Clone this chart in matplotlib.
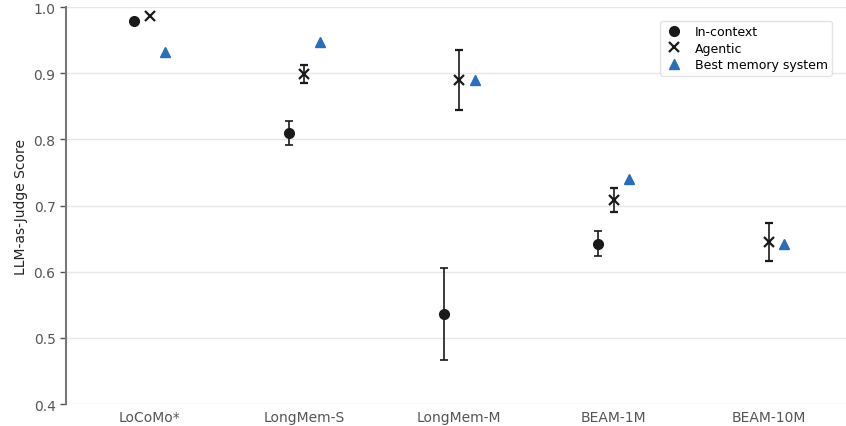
import matplotlib
matplotlib.use("Agg")
import matplotlib.pyplot as plt
from matplotlib.lines import Line2D
import numpy as np

categories = ["LoCoMo*", "LongMem-S", "LongMem-M", "BEAM-1M", "BEAM-10M"]
incontext = [0.979, 0.810, 0.536, 0.642, np.nan]
incontext_err = [0.0, 0.018, 0.069, 0.019, 0.0]
agentic = [0.986, 0.899, 0.890, 0.708, 0.645]
agentic_err = [0.0, 0.014, 0.045, 0.018, 0.029]
best = [0.932, 0.947, 0.890, 0.740, 0.642]

fig = plt.figure(figsize=(8.46, 4.27), dpi=100)
ax = fig.add_axes([0.078, 0.0515, 0.922, 0.9295])

x = np.arange(len(categories))
off = 0.1
ink = "#1a1a1a"
blue = "#2a6ebb"

ic_err = [e if e > 0 else np.nan for e in incontext_err]
ag_err = [e if e > 0 else np.nan for e in agentic_err]

ax.errorbar(x - off, incontext, yerr=ic_err, fmt="o", color=ink, ms=7,
            capsize=3, elinewidth=1.2, capthick=1.2, zorder=3)
ax.errorbar(x, agentic, yerr=ag_err, fmt="x", color=ink, ms=7, mew=1.6,
            capsize=3, elinewidth=1.2, capthick=1.2, zorder=3)
ax.plot(x + off, best, "^", color=blue, ms=7, ls="none", zorder=3)

ax.set_xlim(-0.54, 4.5)
ax.set_ylim(0.4, 1.0)
ax.set_yticks(np.arange(0.4, 1.01, 0.1))
ax.set_xticks(x)
ax.set_xticklabels(categories)
ax.yaxis.grid(True, color="#e8e8e8", lw=1)
ax.set_axisbelow(True)
for s in ["top", "right", "bottom"]:
    ax.spines[s].set_visible(False)
ax.spines["left"].set_color("#777777")
ax.spines["left"].set_linewidth(1.5)
ax.tick_params(axis="x", length=0, colors="#555555", labelsize=10, pad=4)
ax.tick_params(axis="y", colors="#555555", labelsize=10, length=4, width=1)
ax.set_ylabel("LLM-as-Judge Score", fontsize=10, color="#222222")

handles = [
    Line2D([], [], marker="o", color=ink, ls="none", ms=7),
    Line2D([], [], marker="x", color=ink, ls="none", ms=7, mew=1.6),
    Line2D([], [], marker="^", color=blue, ls="none", ms=7),
]
labels = ["In-context", "Agentic", "Best memory system"]
leg = ax.legend(handles, labels, loc="upper right", bbox_to_anchor=(0.982, 0.966),
                fontsize=9, frameon=True, handletextpad=0.9, borderpad=0.35,
                labelspacing=0.3, handlelength=1.5, fancybox=True, borderaxespad=0)
leg.get_frame().set_edgecolor("#dddddd")

fig.savefig("out.png", dpi=100)
